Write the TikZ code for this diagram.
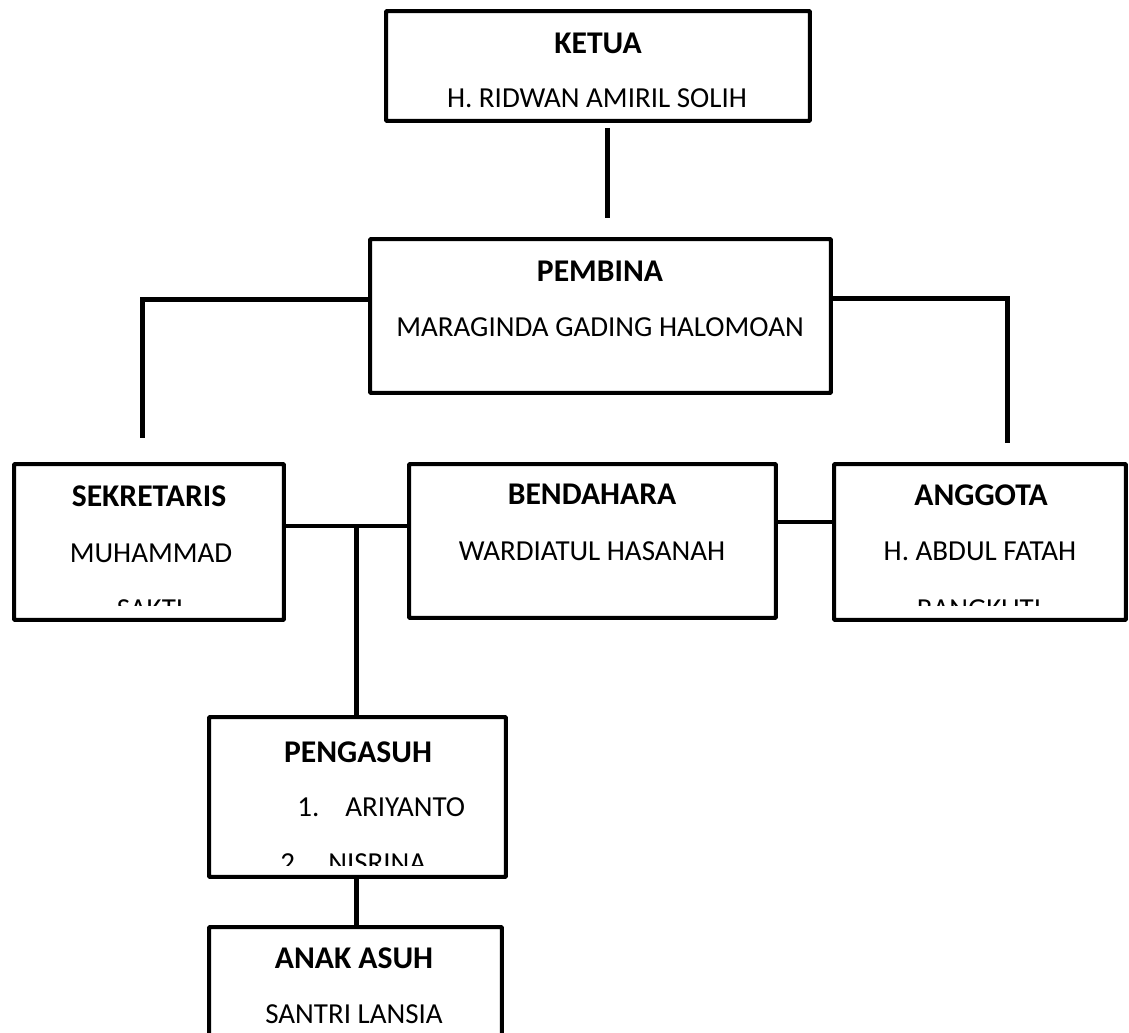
\documentclass[tikz,border=0pt]{standalone}
\usepackage{fontspec}
\setmainfont{Carlito}
\usepackage{tikz}
\usetikzlibrary{positioning,calc}

\begin{document}
\begin{tikzpicture}[x=0.02cm,y=-0.02cm,
  box/.style={draw,line width=0.08cm,inner sep=0pt,outer sep=0pt,rounded corners=0.5pt},
  conn/.style={line width=0.1cm},
  title/.style={font=\fontsize{18}{22}\selectfont\bfseries,anchor=base,inner sep=0pt},
  entry/.style={font=\fontsize{16.5}{20}\selectfont,anchor=base,inner sep=0pt}]
\useasboundingbox (0,0) rectangle (1129,1033);
\clip (0,0) rectangle (1129,1033);
% ---------- boxes
\node[box,minimum width=8.48cm,minimum height=2.20cm] (ketua) at (598,66){};
\node[box,minimum width=9.22cm,minimum height=3.08cm] (pembina) at (600.5,316){};
\node[box,minimum width=5.40cm,minimum height=3.12cm] (sekretaris) at (149,542){};
\node[box,minimum width=7.34cm,minimum height=3.08cm] (bendahara) at (592.5,541){};
\node[box,minimum width=5.84cm,minimum height=3.12cm] (anggota) at (980,542){};
\node[box,minimum width=5.94cm,minimum height=3.20cm] (pengasuh) at (357.5,797){};
\node[box,minimum width=5.86cm,minimum height=3.20cm] (anakasuh) at (355.5,1007){};
% ---------- texts
\node[title] (tketua) at (598,54){KETUA};
\node[entry] (nketua) at (597,108){H. RIDWAN AMIRIL SOLIH};
\node[title] (tpembina) at (600,282){PEMBINA};
\node[entry] (npembina) at (600,337){MARAGINDA GADING HALOMOAN};
\node[title] (tsekretaris) at (149,507){SEKRETARIS};
\node[entry] (nsekretaris) at (151,562){MUHAMMAD};
\node[title] (tbendahara) at (592,505){BENDAHARA};
\node[entry] (nbendahara) at (592,561){WARDIATUL HASANAH};
\node[title] (tanggota) at (981,506){ANGGOTA};
\node[entry] (nanggota) at (980,561){H. ABDUL FATAH};
\node[title] (tpengasuh) at (358,762){PENGASUH};
\node[entry,anchor=base west] (nomor1) at (297,816){1.};
\node[entry,anchor=base west] (nama1) at (345,816){ARIYANTO};
\node[title] (tanakasuh) at (354,968){ANAK ASUH};
\node[entry] (nanakasuh) at (354,1023){SANTRI LANSIA};
% ---------- text cut off at the bottom of the boxes
\begin{scope}
\clip (14,464) rectangle (284,605);
\node[entry] (nsekretaris2) at (150,618){SAKTI};
\end{scope}
\begin{scope}
\clip (834,464) rectangle (1126,605);
\node[entry] (nanggota2) at (979,618){RANGKUTI};
\end{scope}
\begin{scope}
\clip (209,717) rectangle (506,865);
\node[entry,anchor=base west] (nomor2) at (280,872){2.};
\node[entry,anchor=base west] (nama2) at (328,872){NISRINA};
\end{scope}
% ---------- connectors
\coordinate (ktop) at (607,128);
\coordinate (kbot) at (607,218);
\draw[conn] (ktop)--(kbot);
\coordinate (lcorner) at (142,300);
\coordinate (lend) at (142,438);
\draw[conn] (pembina.west |- lcorner)--(lcorner)--(lend);
\coordinate (rcorner) at (1007,299);
\coordinate (rend) at (1007,443);
\draw[conn] (pembina.east |- rcorner)--(rcorner)--(rend);
\coordinate (tjoin) at (356,526);
\draw[conn] (sekretaris.east |- tjoin)--(bendahara.west |- tjoin);
\draw[conn] (tjoin)--(tjoin |- pengasuh.north);
\coordinate (bjoin) at (805,522);
\draw[conn] (bendahara.east |- bjoin)--(anggota.west |- bjoin);
\draw[conn] (pengasuh.south -| tjoin)--(anakasuh.north -| tjoin);
\end{tikzpicture}
\end{document}
